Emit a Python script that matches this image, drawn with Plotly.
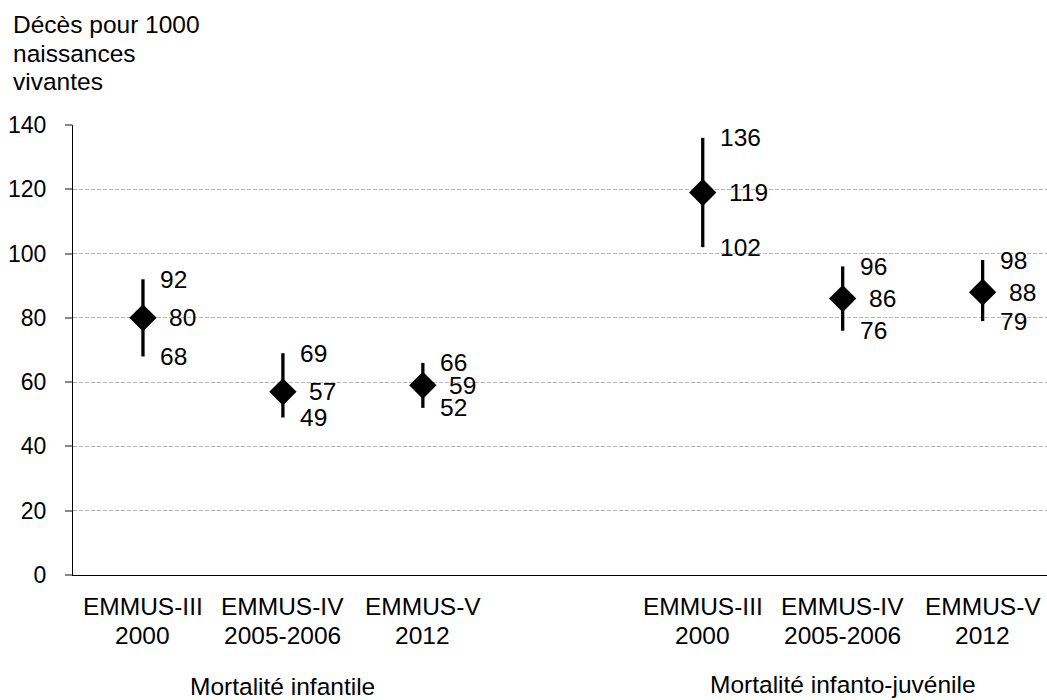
import plotly.graph_objects as go

# Survey rounds (two text lines each) and their slot on the x axis;
# a blank slot separates the two indicators
survey_names = ["EMMUS-III", "EMMUS-IV", "EMMUS-V", "EMMUS-III", "EMMUS-IV", "EMMUS-V"]
survey_years = ["2000", "2005-2006", "2012", "2000", "2005-2006", "2012"]
slots = [0, 1, 2, 4, 5, 6]

# Rates per 1000 live births with confidence bounds
rate = [80, 57, 59, 119, 86, 88]
lower = [68, 49, 52, 102, 76, 79]
upper = [92, 69, 66, 136, 96, 98]

groups = ["Mortalité infantile", "Mortalité infanto-juvénile"]
group_slots = [1, 5]

y_title = ["Décès pour 1000", "naissances", "vivantes"]

FONT = "Liberation Sans, Arial, sans-serif"
FS = 24.5
TICK_FS = 23

# Plot area in pixels
W, H = 1047, 700
L, R, T, B = 73, 0, 125, 125
PW, PH = W - L - R, H - T - B


def px_x(px):
    return (px - L) / PW


def px_y(py):
    return (H - B - py) / PH


fig = go.Figure()
fig.add_trace(go.Scatter(
    x=slots, y=rate, mode="markers",
    marker=dict(symbol="diamond", size=21, color="black"),
    error_y=dict(type="data", symmetric=False,
                 array=[u - r for u, r in zip(upper, rate)],
                 arrayminus=[r - l for r, l in zip(rate, lower)],
                 color="black", thickness=3.3, width=0),
    showlegend=False, hoverinfo="skip",
))

txt = dict(family=FONT, size=FS, color="black")
annotations = []

# Value labels: bounds slightly right of the bar, estimate a bit further right
for xs, lo, mid, hi in zip(slots, lower, rate, upper):
    for val, shift in ((hi, 15), (mid, 24), (lo, 15)):
        annotations.append(dict(
            x=xs, y=val, xref="x", yref="y", text=str(val), showarrow=False,
            xanchor="left", yanchor="middle", xshift=shift, font=txt))

# Category labels under the axis
for xs, name, year in zip(slots, survey_names, survey_years):
    for line, py in ((name, 606), (year, 635)):
        annotations.append(dict(
            x=xs, y=px_y(py), xref="x", yref="paper", text=line,
            showarrow=False, xanchor="center", yanchor="middle", font=txt))

# Indicator names
for name, gx, py in zip(groups, group_slots, (686, 684)):
    annotations.append(dict(
        x=gx, y=px_y(py), xref="x", yref="paper", text=name, showarrow=False,
        xanchor="center", yanchor="middle", font=txt))

# Y-axis title, top left
for line, py in zip(y_title, (24.5, 53.5, 81.5)):
    annotations.append(dict(
        x=px_x(11), y=px_y(py), xref="paper", yref="paper", text=line,
        showarrow=False, xanchor="left", yanchor="middle", font=txt))

fig.update_layout(
    width=W, height=H,
    margin=dict(l=L, r=R, t=T, b=B, pad=0),
    paper_bgcolor="white", plot_bgcolor="white",
    font=dict(family=FONT, size=FS, color="black"),
    annotations=annotations,
    xaxis=dict(
        range=[-0.5, 6.46], tickmode="array", tickvals=slots,
        ticktext=[""] * len(slots),
        showgrid=False, zeroline=False, showline=True, linecolor="black",
        linewidth=1.2, ticks="",
    ),
    yaxis=dict(
        range=[0, 140], tickmode="array", tickvals=list(range(0, 141, 20)),
        showgrid=True, gridcolor="#b8b8b8", gridwidth=1, griddash="4px,2px",
        zeroline=False, showline=True, linecolor="black", linewidth=1.2,
        ticks="outside", ticklen=7, tickcolor="#888888", tickwidth=1.5,
        ticklabelstandoff=14,
        tickfont=dict(family=FONT, size=TICK_FS, color="black"),
    ),
)

fig.write_html("out.html")
